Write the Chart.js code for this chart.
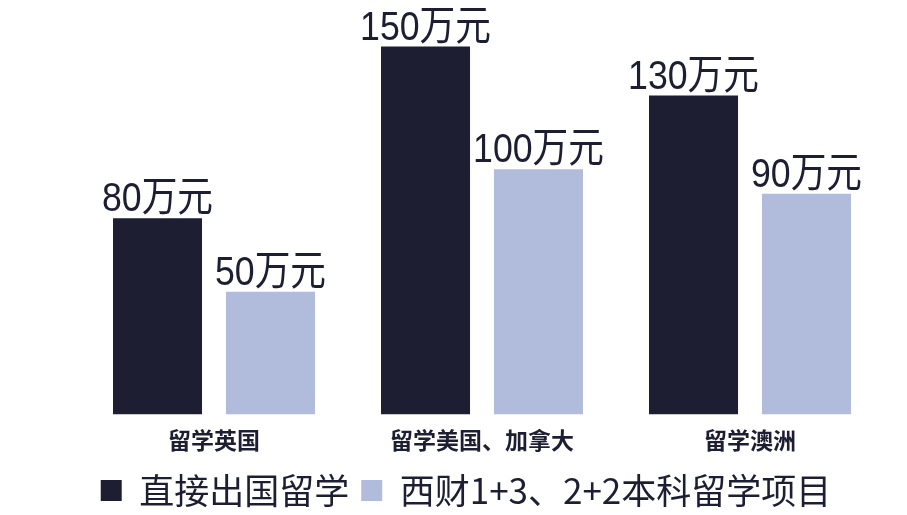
<!DOCTYPE html>
<html>
<head>
<meta charset="utf-8">
<script src="https://cdn.jsdelivr.net/npm/chart.js@4"></script>
<style>
  html, body { margin: 0; padding: 0; background: #fff; }
  #wrap { width: 907px; height: 515px; }
</style>
</head>
<body>
<div id="wrap"><canvas id="myChart"></canvas></div>
<script>
// data
var categories = ['留学英国', '留学美国、加拿大', '留学澳洲'];
var seriesNames = ['直接出国留学', '西财1+3、2+2本科留学项目'];
var directValues = [80, 150, 130];
var programValues = [50, 100, 90];
var unit = '万元';

var darkColor = '#1d1e32';
var lightColor = '#b1bcdd';

// value labels above every bar (narrow text like the original)
var barLabels = {
    id: 'barLabels',
    afterDatasetsDraw: function(chart) {
        var ctx = chart.ctx;
        chart.data.datasets.forEach(function(ds, i) {
            chart.getDatasetMeta(i).data.forEach(function(bar, j) {
                ctx.save();
                ctx.translate(bar.x, bar.y - 7);
                ctx.scale(0.87, 1);
                ctx.font = '41px "Liberation Sans", "Noto Sans CJK SC", sans-serif';
                ctx.fillStyle = darkColor;
                ctx.textAlign = 'center';
                ctx.textBaseline = 'alphabetic';
                ctx.fillText(ds.data[j] + unit, 0, 0);
                ctx.restore();
            });
        });
    }
};

// nudge the legend a bit left and up
var legendShift = {
    id: 'legendShift',
    afterLayout: function(chart) {
        var l = chart.legend;
        l.left -= 16; l.right -= 16;
        l.top -= 5; l.bottom -= 5;
    }
};

var ctx = document.getElementById('myChart');
var chartInstance = new Chart(ctx, {
    type: 'bar',
    data: {
        labels: categories,
        datasets: [{
            label: seriesNames[0],
            data: directValues,
            backgroundColor: darkColor
        }, {
            label: seriesNames[1],
            data: programValues,
            backgroundColor: lightColor
        }]
    },
    options: {
        responsive: true,
        maintainAspectRatio: false,
        animation: false,
        layout: {
            padding: { left: 80, right: 23, top: 22, bottom: -8 }
        },
        datasets: {
            bar: {
                categoryPercentage: 0.843,
                barPercentage: 0.788
            }
        },
        scales: {
            x: {
                grid: { display: false, drawTicks: false },
                border: { display: false },
                ticks: {
                    color: darkColor,
                    padding: 12,
                    font: { family: '"Noto Sans CJK SC", sans-serif', size: 23, weight: 'bold' }
                }
            },
            y: {
                display: false,
                min: 0,
                max: 160
            }
        },
        plugins: {
            legend: {
                position: 'bottom',
                labels: {
                    color: darkColor,
                    boxWidth: 21,
                    boxHeight: 21,
                    padding: 12,
                    font: { family: '"Noto Sans CJK SC", sans-serif', size: 35 }
                }
            },
            tooltip: { enabled: false }
        }
    },
    plugins: [barLabels, legendShift]
});
</script>
</body>
</html>
